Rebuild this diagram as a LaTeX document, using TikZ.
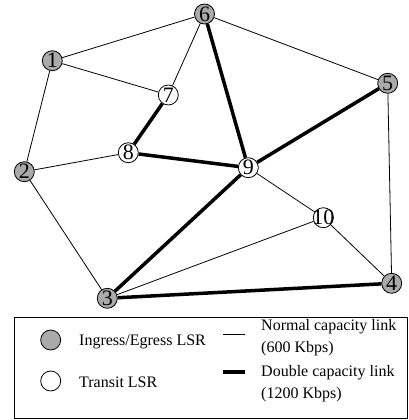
\documentclass[tikz,border=0pt]{standalone}
\usepackage{fontspec}
\setmainfont{Liberation Serif}
\definecolor{lsrgray}{RGB}{170,170,170}
\tikzset{
  lsr/.style={circle, draw=black, line width=0.8pt, minimum size=20pt, inner sep=0pt,
    font=\fontsize{22}{22}\selectfont},
  ingress/.style={lsr, fill=lsrgray},
  transit/.style={lsr, fill=white},
  normal/.style={line width=0.8pt},
  double/.style={line width=3.5pt},
  legtext/.style={anchor=west, align=left, inner sep=0pt, font=\fontsize{16}{22}\selectfont},
}
\begin{document}
\begin{tikzpicture}[x=1pt, y=-1pt]
\useasboundingbox (0,0) rectangle (408,420);
% nodes
\node[ingress] (n6) at (204.5,14) {\makebox[0pt]{6}};
\node[ingress] (n1) at (52.3,60.7) {\makebox[0pt]{1}};
\node[transit] (n7) at (168.3,95) {\makebox[0pt]{7}};
\node[ingress] (n5) at (387.7,83.3) {\makebox[0pt]{5}};
\node[transit] (n8) at (128.3,152.7) {\makebox[0pt]{8}};
\node[ingress] (n2) at (24.3,171.7) {\makebox[0pt]{2}};
\node[transit] (n9) at (248.3,167.7) {\makebox[0pt]{9}};
\node[transit] (n10) at (323.3,217.7) {\makebox[0pt]{10}};
\node[ingress] (n3) at (107.3,298.3) {\makebox[0pt]{3}};
\node[ingress] (n4) at (391.7,283.3) {\makebox[0pt]{4}};
% links
\draw[normal] (n1) -- (n6);
\draw[normal] (n1) -- (n7);
\draw[normal] (n1) -- (n2);
\draw[normal] (n6) -- (n7);
\draw[normal] (n6) -- (n5);
\draw[normal] (n8) -- (n2);
\draw[normal] (n9) -- (n10);
\draw[normal] (n2) -- (n3);
\draw[normal] (n3) -- (n10);
\draw[normal] (n10) -- (n4);
\draw[normal] (n5) -- (n4);
\draw[double] (n6) -- (n9);
\draw[double] (n7) -- (n8);
\draw[double] (n8) -- (n9);
\draw[double] (n9) -- (n5);
\draw[double] (n9) -- (n3);
\draw[double] (n3) -- (n4);
% legend
\draw[line width=1pt] (14,317.5) rectangle (407,418);
\node[ingress] (lgin) at (50.7,340) {};
\node[transit] (lgtr) at (50.7,381) {};
\node[legtext] (tin) at (79,342) {Ingress/Egress LSR};
\node[legtext] (ttr) at (79,382) {Transit LSR};
\coordinate (la) at (223,334);
\coordinate (lb) at (245,334);
\coordinate (lc) at (223,372);
\coordinate (ld) at (245,372);
\draw[normal] (la) -- (lb);
\draw[line width=4pt] (lc) -- (ld);
\node[legtext] (tnorm) at (261,338) {Normal capacity link\\(600 Kbps)};
\node[legtext] (tdbl) at (261,384) {Double capacity link\\(1200 Kbps)};
\end{tikzpicture}
\end{document}
